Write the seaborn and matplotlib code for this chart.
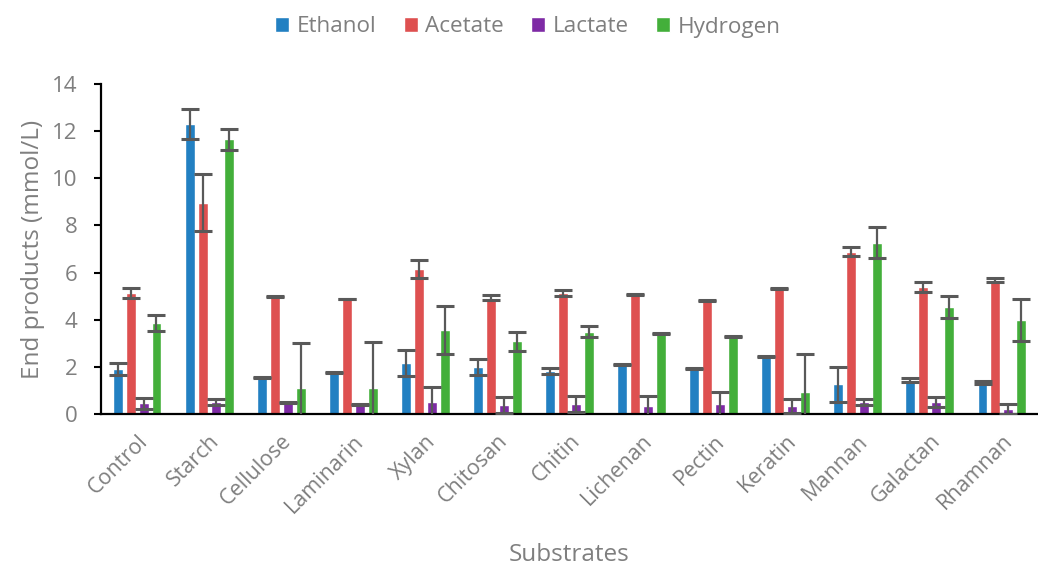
import numpy as np
import pandas as pd
import matplotlib
matplotlib.use("Agg")
import matplotlib.pyplot as plt
import seaborn as sns

categories = ["Control", "Starch", "Cellulose", "Laminarin", "Xylan", "Chitosan",
              "Chitin", "Lichenan", "Pectin", "Keratin", "Mannan", "Galactan", "Rhamnan"]
products = ["Ethanol", "Acetate", "Lactate", "Hydrogen"]

ethanol = [1.91, 12.30, 1.54, 1.78, 2.15, 2.01, 1.81, 2.11, 1.95, 2.45, 1.26, 1.44, 1.33]
ethanol_sd = [0.24, 0.65, 0.02, 0.02, 0.55, 0.34, 0.13, 0.02, 0.02, 0.02, 0.74, 0.08, 0.07]
acetate = [5.14, 8.97, 5.00, 4.88, 6.16, 4.94, 5.12, 5.08, 4.80, 5.34, 6.88, 5.38, 5.69]
acetate_sd = [0.20, 1.22, 0.02, 0.02, 0.37, 0.10, 0.13, 0.02, 0.02, 0.02, 0.19, 0.20, 0.08]
lactate = [0.45, 0.52, 0.48, 0.41, 0.52, 0.40, 0.42, 0.34, 0.42, 0.34, 0.51, 0.51, 0.21]
lactate_sd = [0.23, 0.12, 0.03, 0.03, 0.64, 0.34, 0.33, 0.44, 0.52, 0.31, 0.11, 0.21, 0.22]
hydrogen = [3.86, 11.65, 1.09, 1.09, 3.57, 3.09, 3.50, 3.40, 3.30, 0.92, 7.26, 4.54, 3.98]
hydrogen_sd = [0.32, 0.43, 1.94, 1.95, 1.02, 0.40, 0.24, 0.02, 0.02, 1.64, 0.66, 0.45, 0.89]

colors = ["#2280C2", "#DE5050", "#7E2AA5", "#43AF3A"]

means = {"Ethanol": ethanol, "Acetate": acetate, "Lactate": lactate, "Hydrogen": hydrogen}
sds = {"Ethanol": ethanol_sd, "Acetate": acetate_sd, "Lactate": lactate_sd, "Hydrogen": hydrogen_sd}

rows = []
for p in products:
    for c, v, s in zip(categories, means[p], sds[p]):
        rows.append({"Substrate": c, "Product": p, "Value": v, "SD": s})
df = pd.DataFrame(rows)

sns.set_theme(style="white")
plt.rcParams["font.family"] = ["Open Sans", "DejaVu Sans"]
grey = "#7F7F7F"

fig = plt.figure(figsize=(10.38, 5.67), dpi=100)
ax = fig.add_axes([101 / 1038, 1 - 414 / 567, 937 / 1038, 330 / 567])

sns.barplot(data=df, x="Substrate", y="Value", hue="Product",
            order=categories, hue_order=products, palette=colors,
            errorbar=None, width=0.72, gap=0.23, saturation=1,
            ax=ax, legend=True)

# standard deviation whiskers on every bar
for p, cont in zip(products, ax.containers):
    xs = [b.get_x() + b.get_width() / 2 for b in cont]
    ax.errorbar(xs, means[p], yerr=sds[p], fmt="none", ecolor="#595959",
                elinewidth=1.6, capsize=6.5, capthick=2.2, zorder=5)

ax.set_xlim(-0.5, len(categories) - 0.5)
ax.set_ylim(0, 14)
ax.set_yticks(np.arange(0, 15, 2))
ax.tick_params(axis="y", which="both", left=True, length=5, width=1.5,
               color="black", labelsize=16, labelcolor=grey, pad=12)
ax.tick_params(axis="x", bottom=False, labelsize=15.5, labelcolor=grey, pad=6)
plt.setp(ax.get_xticklabels(), rotation=45, ha="right", rotation_mode="anchor")

for side in ["top", "right"]:
    ax.spines[side].set_visible(False)
for side in ["left", "bottom"]:
    ax.spines[side].set_color("black")
    ax.spines[side].set_linewidth(1.6)

ax.set_xlabel("Substrates", fontsize=17.5, color=grey, va="center")
ax.xaxis.set_label_coords(0.5, (414 - 555) / 330)
ax.set_ylabel("End products (mmol/L)", fontsize=17.5, color=grey, va="center")
ax.yaxis.set_label_coords((33 - 101) / 937, 0.5)

handles, labels = ax.get_legend_handles_labels()
ax.legend_.remove()
fig.legend(handles, labels, loc="center", bbox_to_anchor=(528 / 1038, 1 - 27 / 567),
           ncol=4, frameon=False, fontsize=16.2, labelcolor=grey,
           handlelength=0.62, handleheight=0.62, handletextpad=0.35, columnspacing=1.2)

fig.savefig("out.png", dpi=100)
